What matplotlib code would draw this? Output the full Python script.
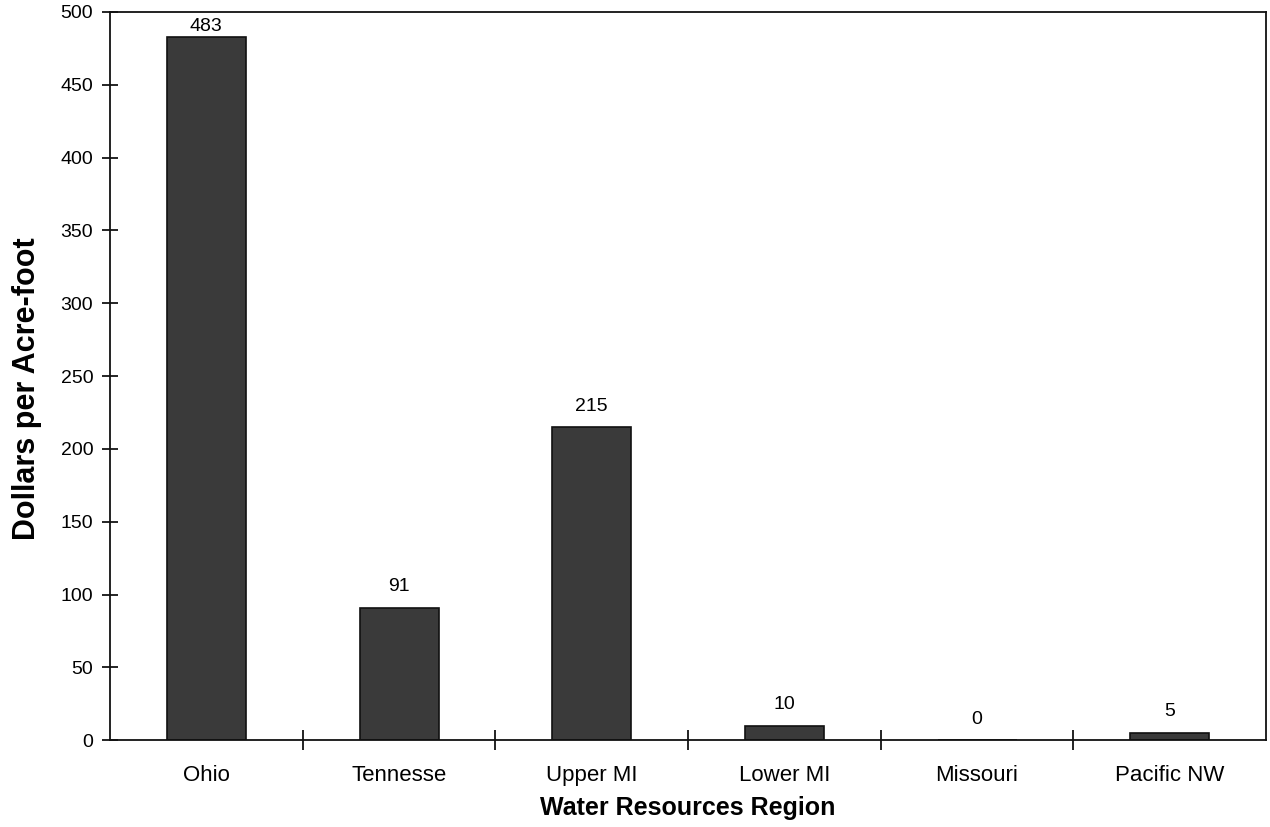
"""
Dollars per acre-foot by water resources region
"""
import numpy as np
import matplotlib.pyplot as plt
from matplotlib.ticker import FixedLocator, NullFormatter

regions = ['Ohio', 'Tennesse', 'Upper MI', 'Lower MI', 'Missouri', 'Pacific NW']
dollars = [483, 91, 215, 10, 0, 5]
y_ticks = [0, 50, 100, 150, 200, 250, 300, 350, 400, 450, 500]

plt.rcParams['font.family'] = ['Liberation Sans', 'DejaVu Sans']

fig = plt.figure(figsize=(12.7, 8.27), dpi=100)
ax = fig.add_axes([0.0866, 0.105, 0.9103, 0.8805])

x = np.arange(len(regions))
bars = ax.bar(x, dollars, width=0.41, color='#3a3a3a', edgecolor='#111111', linewidth=1.2)

# value labels above bars; the tallest one is squeezed against the frame
for xi, v in zip(x, dollars):
    off = 1 if v > 470 else 9
    ax.annotate(str(v), (xi, v), xytext=(0, off), textcoords='offset points',
                ha='center', va='bottom', fontsize=14, clip_on=False)

ax.set_xlim(-0.5, len(regions) - 0.5)
ax.set_ylim(0, 500)
ax.set_yticks(y_ticks)
ax.set_xticks(x)
ax.set_xticklabels(regions)
ax.xaxis.set_minor_locator(FixedLocator(np.arange(0.5, len(regions) - 0.5, 1)))
ax.xaxis.set_minor_formatter(NullFormatter())

ax.tick_params(axis='x', which='major', length=0, labelsize=16, pad=18)
ax.tick_params(axis='x', which='minor', direction='inout', length=14, width=1.2)
ax.tick_params(axis='y', direction='inout', length=12, width=1.2, labelsize=14, pad=6)

for side in ['left', 'bottom', 'top', 'right']:
    ax.spines[side].set_linewidth(1.3)
    ax.spines[side].set_color('#111111')

ax.set_xlabel('Water Resources Region', fontsize=18, fontweight='bold', labelpad=7)
ax.set_ylabel('Dollars per Acre-foot', fontsize=22, fontweight='bold')
ax.yaxis.set_label_coords(-0.059, 0.483)

plt.savefig('out.png', dpi=100)
plt.close()
